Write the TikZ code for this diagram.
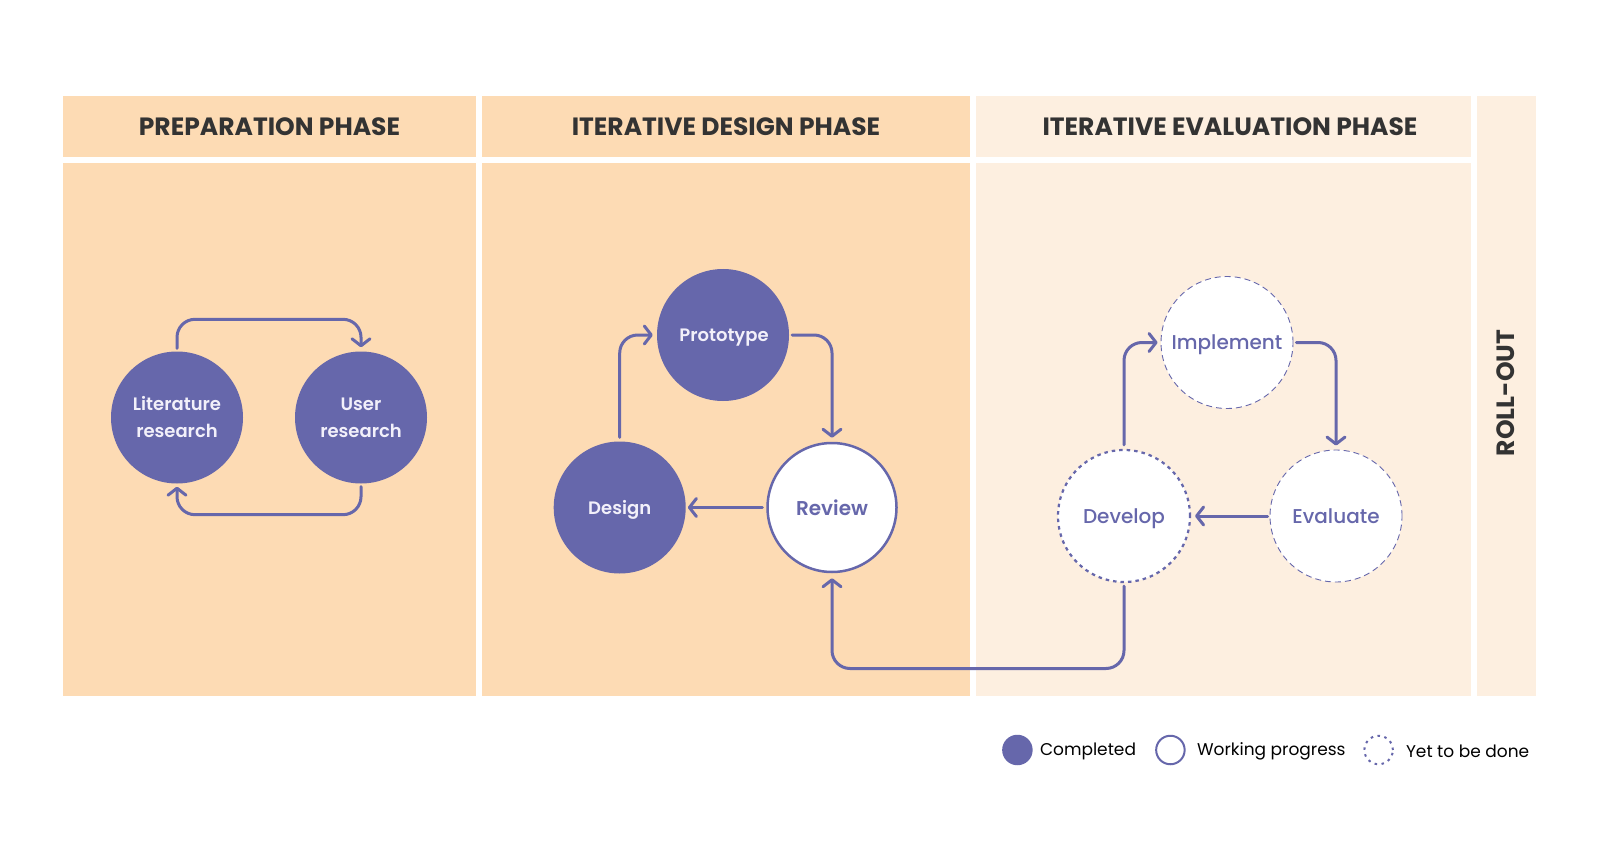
\documentclass[tikz,border=0pt]{standalone}
\usepackage{fontspec}
\setmainfont{Poppins}
\newfontfamily\semib{Poppins SemiBold}
\newfontfamily\medi{Poppins Medium}
\usetikzlibrary{arrows.meta}
\definecolor{peri}{HTML}{6667AB}
\definecolor{orng}{HTML}{FDDBB4}
\definecolor{lite}{HTML}{FDEFE0}
\definecolor{ink}{HTML}{333333}
\definecolor{pale}{HTML}{F2F0FA}
\begin{document}
\begin{tikzpicture}[x=1pt,y=-1pt,
 head/.style={text=ink, font=\fontsize{25}{30}\selectfont\bfseries},
 done/.style={circle, fill=peri, minimum size=132pt, inner sep=0pt, text=pale, align=center, font=\fontsize{18}{27}\semib},
 one/.style={text height=13pt, text depth=0pt},
 wip/.style={circle, fill=white, draw=peri, line width=2.5pt, minimum size=129pt, inner sep=0pt, text=peri, font=\fontsize{20}{24}\semib},
 todo/.style={circle, fill=white, draw=peri, line width=0.9pt, dash pattern=on 6pt off 4pt, minimum size=132pt, inner sep=0pt, text=peri, text height=14pt, text depth=0pt, font=\fontsize{20}{24}\medi},
 tododot/.style={todo, line width=2.2pt, dash pattern=on 3.5pt off 4pt},
 flow/.style={draw=peri, line width=3pt, line cap=round, line join=round, rounded corners=18pt, -{Straight Barb[length=7pt,width=18pt,line cap=round,line join=round]}},
 legtext/.style={anchor=west, text=black, font=\fontsize{17}{20}\selectfont},
]
\useasboundingbox (0,0) rectangle (1600,842);
\fill[white] (0,0) rectangle (1600,842);
% panels
\fill[orng] (63,96) rectangle (476,157);
\fill[orng] (63,163) rectangle (476,696);
\fill[orng] (482,96) rectangle (970,157);
\fill[orng] (482,163) rectangle (970,696);
\fill[lite] (976,96) rectangle (1471,157);
\fill[lite] (976,163) rectangle (1471,696);
\fill[lite] (1477,96) rectangle (1536,696);
% headers
\node[head] (h1) at (269.5,126.5) {PREPARATION PHASE};
\node[head] (h2) at (726,126.5) {ITERATIVE DESIGN PHASE};
\node[head] (h3) at (1230,126.5) {ITERATIVE EVALUATION PHASE};
\node[head, rotate=90] (h4) at (1506,393) {ROLL-OUT};
% nodes
\node[done] (lit) at (177,417.5) {Literature\\research};
\node[done] (user) at (361,417.5) {User\\research};
\node[done, one] (proto) at (723,335) {\hspace{2pt}Prototype};
\node[done, one] (design) at (619.7,507.5) {Design};
\node[wip, text height=15pt, text depth=0pt] (review) at (832,507.5) {Review};
\node[todo] (impl) at (1227,342.5) {Implement};
\node[tododot] (dev) at (1124,516) {Develop};
\node[todo] (eval) at (1336,516) {Evaluate};
\coordinate (low) at (0,668.5);
% connectors
\draw[flow] ([yshift=3pt]lit.north) -- ++(0,-29) -| ([yshift=4pt]user.north);
\draw[flow] ([yshift=-3pt]user.south) -- ++(0,28) -| ([yshift=-3pt]lit.south);
\draw[flow] ([yshift=4pt]design.north) |- ([xshift=-4pt]proto.west);
\draw[flow] ([xshift=3pt]proto.east) -| ([yshift=4pt]review.north);
\draw[flow] ([xshift=-4pt]review.west) -- ([xshift=2pt]design.east);
\draw[flow] ([yshift=4pt]dev.north) |- ([xshift=-3pt]impl.west);
\draw[flow] ([xshift=3pt]impl.east) -| ([yshift=4pt]eval.north);
\draw[flow] ([xshift=-2pt]eval.west) -- ([xshift=4pt]dev.east);
\draw[flow] ([yshift=-3pt]dev.south) -- (dev.south |- low) -| ([yshift=-5pt]review.south);
% legend
\node[circle, fill=peri, minimum size=30.5pt, inner sep=0pt] (lg1) at (1017.4,750) {};
\node[legtext] (lt1) at (1036.5,751) {Completed};
\node[circle, fill=white, draw=peri, line width=2pt, minimum size=28.5pt, inner sep=0pt] (lg2) at (1170.4,750) {};
\node[legtext] (lt2) at (1193.5,751) {Working progress};
\node[circle, fill=white, draw=peri, line width=2pt, dash pattern=on 2.5pt off 4.5pt, minimum size=28.5pt, inner sep=0pt] (lg3) at (1378.6,750) {};
\node[legtext] (lt3) at (1402.5,751) {Yet to be done};
\end{tikzpicture}
\end{document}
